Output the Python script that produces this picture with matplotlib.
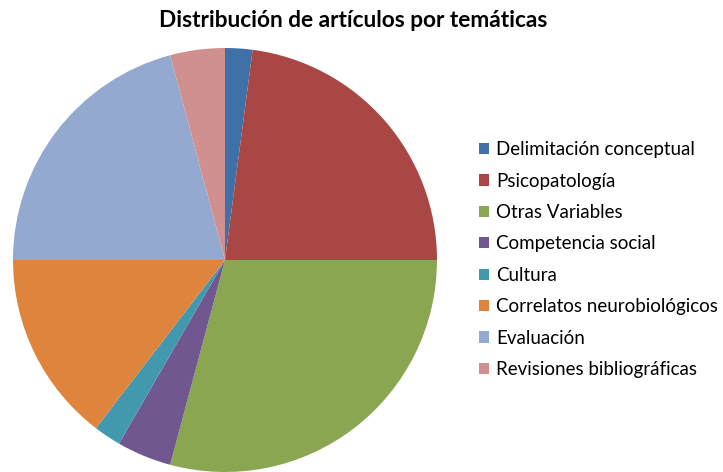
import matplotlib.pyplot as plt

# Distribución de artículos por temáticas (número de artículos)
temas = ['Delimitación conceptual', 'Psicopatología', 'Otras Variables',
         'Competencia social', 'Cultura', 'Correlatos neurobiológicos',
         'Evaluación', 'Revisiones bibliográficas']
articulos = [1, 11, 14, 2, 1, 7, 10, 2]
colores = ['#4070A8', '#A94744', '#8AA650', '#71578F',
           '#4298AD', '#DF843D', '#93A9D0', '#CF908F']

plt.rcParams['font.family'] = ['Lato', 'DejaVu Sans']

fig = plt.figure(figsize=(7.23, 4.72), dpi=100)
ax = fig.add_axes([13 / 723, 0, 424 / 723, 424 / 472])

wedges, _ = ax.pie(articulos, colors=colores, startangle=90, counterclock=False,
                   radius=1, wedgeprops=dict(linewidth=0))
ax.set_xlim(-1, 1)
ax.set_ylim(-1, 1)
ax.set_aspect('equal')

fig.text(0.488, 0.957, 'Distribución de artículos por temáticas',
         ha='center', va='center', fontsize=16.3, fontweight='bold')

fig.legend(wedges, temas, loc='center left', bbox_to_anchor=(0.662, 0.450),
           frameon=False, fontsize=13.5, handlelength=0.55, handleheight=0.55,
           handletextpad=0.4, labelspacing=0.77, borderpad=0, borderaxespad=0)

fig.savefig('out.png', dpi=100)
